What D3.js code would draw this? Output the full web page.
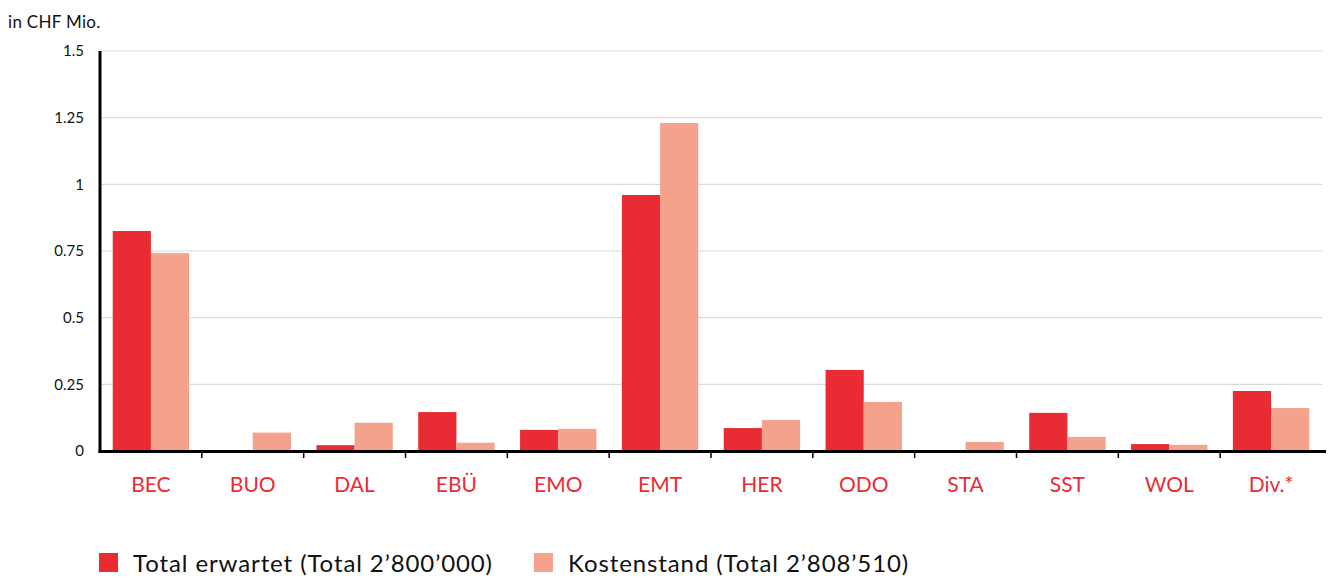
<!DOCTYPE html>
<html><head><meta charset="utf-8">
<script src="https://cdn.jsdelivr.net/npm/d3@7"></script>
<style>body{margin:0;background:#fff;} text{font-family:"Lato","Open Sans",sans-serif;}</style>
</head><body><svg id="c" width="1328" height="578"></svg>
<script>
const categories = ["BEC","BUO","DAL","EBÜ","EMO","EMT","HER","ODO","STA","SST","WOL","Div.*"];
const erwartet = [0.825,0.003,0.022,0.146,0.079,0.96,0.086,0.304,0.003,0.143,0.026,0.225];
const kostenstand = [0.742,0.069,0.106,0.031,0.083,1.23,0.116,0.184,0.034,0.053,0.023,0.161];
const yTicks = [0,0.25,0.5,0.75,1,1.25,1.5];
const yTickLabels = ["0","0.25","0.5","0.75","1","1.25","1.5"];
const seriesNames = ["Total erwartet (Total 2’800’000)","Kostenstand (Total 2’808’510)"];
const colors = ["#e92c34","#f4a28c"];

const svg = d3.select("#c");
const L=100, R=1322, T=51, B=451;
const x = d3.scaleBand().domain(categories).range([L,R]).paddingInner(0.25).paddingOuter(0.125);
const xb = d3.scaleBand().domain(categories).range([L,R]).padding(0);
const x1 = d3.scaleBand().domain([0,1]).range([0,x.bandwidth()]);
const y = d3.scaleLinear().domain([0,1.5]).range([B,T]);

// gridlines
svg.append("g").selectAll("line").data(yTicks.slice(1)).join("line")
  .attr("x1",L).attr("x2",R).attr("y1",d=>y(d)).attr("y2",d=>y(d))
  .attr("stroke","#d9d9d9").attr("stroke-width",1.2);

// y labels
svg.append("g").selectAll("text").data(yTicks).join("text")
  .attr("x",84).attr("y",d=>y(d)).attr("dy","0.35em").attr("text-anchor","end")
  .attr("font-size",15).attr("fill","#111").text((d,i)=>yTickLabels[i]);

// bars
const series=[erwartet,kostenstand];
const g = svg.append("g");
series.forEach((vals,si)=>{
  g.selectAll(".s"+si).data(categories).join("rect")
   .attr("x",d=>x(d)+x1(si)).attr("width",x1.bandwidth())
   .attr("y",(d,i)=>y(vals[i])).attr("height",(d,i)=>B-y(vals[i]))
   .attr("fill",colors[si]);
});

// x ticks at band boundaries
svg.append("g").selectAll("line").data(categories.slice(1)).join("line")
  .attr("x1",d=>xb(d)).attr("x2",d=>xb(d)).attr("y1",B).attr("y2",B+7)
  .attr("stroke","#000").attr("stroke-width",1.5);

// axes lines
svg.append("line").attr("x1",L-1.5).attr("x2",R+4).attr("y1",B+0.5).attr("y2",B+0.5).attr("stroke","#000").attr("stroke-width",3);
svg.append("line").attr("x1",L).attr("x2",L).attr("y1",T).attr("y2",B+2).attr("stroke","#000").attr("stroke-width",3);

// category labels
svg.append("g").selectAll("text").data(categories).join("text")
  .attr("x",d=>xb(d)+xb.bandwidth()/2).attr("y",492)
  .attr("text-anchor","middle").attr("font-size",21).attr("fill","#e92c34").text(d=>d);

// title
svg.append("text").attr("x",8).attr("y",28).attr("font-size",17).attr("letter-spacing",0.3).attr("fill","#111").text("in CHF Mio.");

// legend
const lx=[99,534];
seriesNames.forEach((n,i)=>{
  svg.append("rect").attr("x",lx[i]).attr("y",553).attr("width",19).attr("height",19).attr("fill",colors[i]);
  svg.append("text").attr("x",lx[i]+34).attr("y",572).attr("font-size",24).attr("letter-spacing",0.9).attr("fill","#111").text(n);
});
</script></body></html>
